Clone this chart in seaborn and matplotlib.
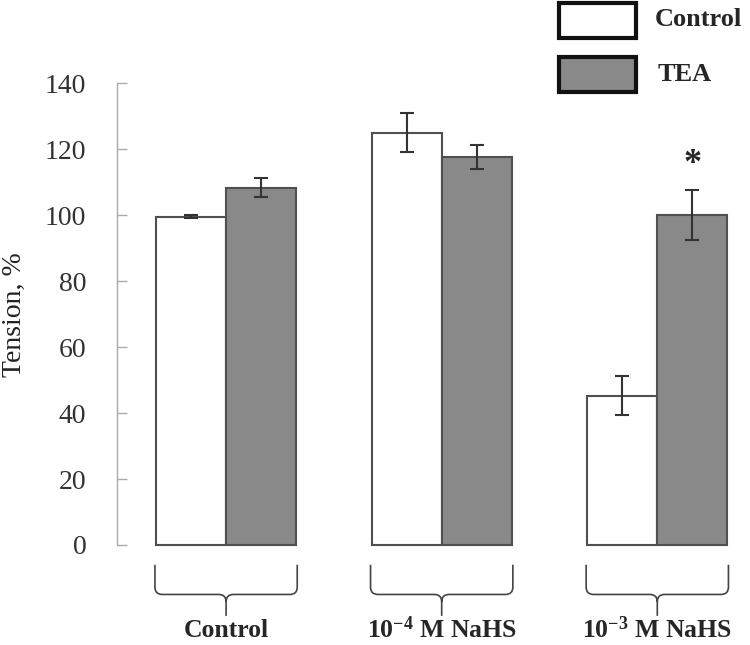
import matplotlib
matplotlib.use("Agg")
import matplotlib.pyplot as plt
from matplotlib.path import Path
from matplotlib.patches import PathPatch, Rectangle
import seaborn as sns
import pandas as pd

# data
groups = ["Control", "NaHS 1e-4", "NaHS 1e-3"]
group_labels = ["Control", r"$\mathbf{10^{-4}}$ M NaHS", r"$\mathbf{10^{-3}}$ M NaHS"]
conditions = ["Control", "TEA"]
control_vals = [99.5, 125.0, 45.3]
control_err = [0.4, 6.0, 5.8]
tea_vals = [108.3, 117.6, 100.0]
tea_err = [2.9, 3.6, 7.5]
yticks = [0, 20, 40, 60, 80, 100, 120, 140]
colors = {"Control": "white", "TEA": "#898989"}

df = pd.DataFrame({
    "group": groups * 2,
    "condition": ["Control"] * 3 + ["TEA"] * 3,
    "value": control_vals + tea_vals,
})

sns.set_style("white")
plt.rcParams["font.family"] = ["Liberation Serif", "DejaVu Serif"]
plt.rcParams["mathtext.fontset"] = "custom"
plt.rcParams["mathtext.rm"] = "Liberation Serif"
plt.rcParams["mathtext.bf"] = "Liberation Serif:bold"

fig = plt.figure(figsize=(7.5, 6.45), dpi=100)
ax = fig.add_axes([0.156, 0.152, 0.844, 0.719])

sns.barplot(data=df, x="group", y="value", hue="condition", palette=colors,
            width=0.65, edgecolor="#505050", linewidth=1.5, errorbar=None,
            legend=False, ax=ax)

# error bars
for cont, errs in zip(ax.containers, [control_err, tea_err]):
    xs = [p.get_x() + p.get_width() / 2 for p in cont.patches]
    ys = [p.get_height() for p in cont.patches]
    ax.errorbar(xs, ys, yerr=errs, fmt="none", ecolor="#333333",
                elinewidth=1.5, capsize=5, capthick=1.5)

# significance mark
star_x = ax.containers[1].patches[2]
ax.text(star_x.get_x() + star_x.get_width() / 2, tea_vals[2] + tea_err[2] + 8,
        "*", ha="center", va="center", fontsize=26, fontweight="bold")

ax.set_ylim(-0.6, 140)
ax.set_xlim(-0.506, 2.43)
ax.set_yticks(yticks)
ax.set_xticks([])
ax.set_xlabel("")
ax.set_ylabel("Tension, %", fontsize=20, color="#222222")
ax.yaxis.set_label_coords(-0.142, 0.5)
ax.tick_params(axis="y", direction="in", length=7, width=1, color="#aaaaaa",
               pad=22, labelsize=20, labelcolor="#333333", left=True)
for s in ["top", "right", "bottom"]:
    ax.spines[s].set_visible(False)
ax.spines["left"].set_color("#aaaaaa")
ax.spines["left"].set_linewidth(1)
ax.spines["left"].set_bounds(0, 140)

# braces under each group
half = 0.65 / 2 + 0.005
top, h, tip = -6, -15, -17.5
rx, ry = 0.035, 2.2
for i, lab in enumerate(group_labels):
    xl, xr = i - half, i + half
    verts = [
        (xl, top), (xl, h + ry), (xl, h), (xl + rx, h),
        (i - rx, h), (i, h), (i, h - ry), (i, tip - 4),
        (i, h - ry), (i, h), (i + rx, h),
        (xr - rx, h), (xr, h), (xr, h + ry), (xr, top),
    ]
    codes = [Path.MOVETO, Path.LINETO, Path.CURVE3, Path.CURVE3,
             Path.LINETO, Path.CURVE3, Path.CURVE3, Path.LINETO,
             Path.MOVETO, Path.CURVE3, Path.CURVE3,
             Path.LINETO, Path.CURVE3, Path.CURVE3, Path.LINETO]
    ax.add_patch(PathPatch(Path(verts, codes), fill=False, edgecolor="#444444",
                           lw=1.2, clip_on=False))
    ax.text(i, -25.8, lab, ha="center", va="center", fontsize=18.5,
            fontweight="bold", clip_on=False)

# legend boxes
for yb, cond, tx in [(0.941, "Control", 0.873), (0.857, "TEA", 0.877)]:
    fig.patches.append(Rectangle((0.745, yb), 0.103, 0.055, transform=fig.transFigure,
                                 facecolor=colors[cond], edgecolor="#111111", lw=3))
    fig.text(tx, yb + 0.028, cond, ha="left", va="center", fontsize=19,
             fontweight="bold")

fig.savefig("out.png", dpi=100)
